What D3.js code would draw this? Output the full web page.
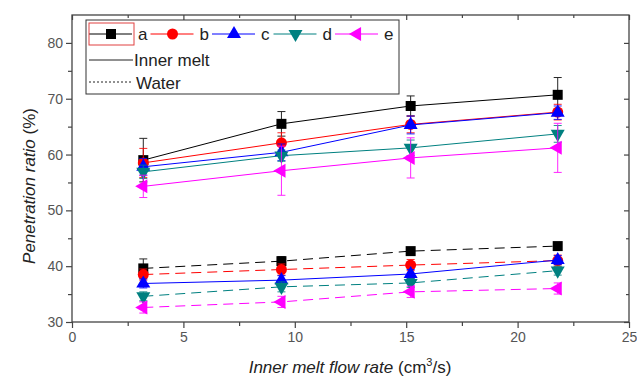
<!DOCTYPE html>
<html>
<head>
<meta charset="utf-8">
<script src="https://cdn.jsdelivr.net/npm/d3@7"></script>
<style>
  body { margin: 0; background: #fff; }
  text { font-family: "Liberation Sans", Arial, sans-serif; }
</style>
</head>
<body>
<svg id="chart" width="637" height="379"></svg>
<script>
// data
const flowRates = [3.2, 9.4, 15.2, 21.8];
const seriesNames = ["a", "b", "c", "d", "e"];
const seriesColors = ["#000000", "#ff0000", "#0000ff", "#008080", "#ff00ff"];
const seriesShapes = ["square", "circle", "triangle", "triangleDown", "triangleLeft"];

const meltValues = [
  [59.0, 65.5, 68.7, 70.7],
  [58.5, 62.1, 65.4, 67.6],
  [57.8, 60.4, 65.3, 67.5],
  [56.9, 59.8, 61.2, 63.7],
  [54.3, 57.1, 59.4, 61.2]
];
const meltErrors = [
  [3.9, 2.2, 1.8, 3.1],
  [2.6, 1.8, 1.5, 1.4],
  [1.5, 1.5, 1.6, 1.2],
  [1.2, 1.0, 1.4, 1.5],
  [2.0, 4.4, 3.6, 4.4]
];
const waterValues = [
  [39.6, 40.9, 42.7, 43.6],
  [38.5, 39.4, 40.2, 41.0],
  [36.9, 37.5, 38.6, 41.1],
  [34.6, 36.3, 37.0, 39.2],
  [32.6, 33.6, 35.4, 36.0]
];
const waterErrors = [
  [1.7, 0.8, 0.6, 0.6],
  [1.0, 1.0, 1.0, 1.0],
  [0.8, 0.8, 0.8, 0.8],
  [0.8, 0.9, 0.8, 0.8],
  [1.0, 1.0, 1.0, 1.0]
];
const waterDash = ["10,6", "10,6", null, "10,6", "10,6"];
const xTicks = [0, 5, 10, 15, 20, 25];
const yTicks = [30, 40, 50, 60, 70, 80];

const svg = d3.select("#chart");
const margin = { top: 15, right: 8, bottom: 57, left: 72 };
const width = 637 - margin.left - margin.right,
  height = 379 - margin.top - margin.bottom;
const g = svg.append("g").attr("transform", "translate(" + margin.left + "," + margin.top + ")");

const x = d3.scaleLinear().domain([0, 25]).range([0, width]);
const y = d3.scaleLinear().domain([30, 85]).range([height, 0]);
const axisColor = "#444";

// frame
g.append("rect").attr("width", width).attr("height", height)
  .attr("fill", "none").attr("stroke", axisColor).attr("stroke-width", 1.3);

// bottom axis
g.append("g").attr("transform", "translate(0," + height + ")")
  .call(d3.axisBottom(x).tickValues(xTicks).tickSize(6).tickPadding(4));
g.append("g").attr("transform", "translate(0," + height + ")")
  .call(d3.axisBottom(x).tickValues(d3.range(2.5, 25, 5)).tickSize(4).tickFormat(""));
// left axis
g.append("g").call(d3.axisLeft(y).tickValues(yTicks).tickSize(6).tickPadding(3));
g.append("g").call(d3.axisLeft(y).tickValues(d3.range(35, 85, 10)).tickSize(4).tickFormat(""));
// top and right mirror ticks pointing inward
g.append("g").call(d3.axisTop(x).tickValues(xTicks).tickSize(-5).tickFormat(""));
g.append("g").call(d3.axisTop(x).tickValues(d3.range(2.5, 25, 5)).tickSize(-3).tickFormat(""));
g.append("g").attr("transform", "translate(" + width + ",0)")
  .call(d3.axisRight(y).tickValues(yTicks).tickSize(-5).tickFormat(""));
g.append("g").attr("transform", "translate(" + width + ",0)")
  .call(d3.axisRight(y).tickValues(d3.range(35, 85, 10)).tickSize(-3).tickFormat(""));

g.selectAll(".domain").remove();
g.selectAll(".tick line").attr("stroke", axisColor).attr("stroke-width", 1.2);
g.selectAll(".tick text").attr("font-size", 14).attr("fill", "#555")
  .style("font-family", "Liberation Sans, Arial, sans-serif");

// markers
const shapeOf = {
  square: d3.symbol().type(d3.symbolSquare).size(100),
  circle: d3.symbol().type(d3.symbolCircle).size(95),
  triangle: d3.symbol().type(d3.symbolTriangle).size(85),
  triangleDown: d3.symbol().type(d3.symbolTriangle).size(85),
  triangleLeft: d3.symbol().type(d3.symbolTriangle).size(85)
};
const rotOf = { square: 0, circle: 0, triangle: 0, triangleDown: 180, triangleLeft: -90 };

function drawGroup(values, errors, dashFn) {
  values.forEach((vals, i) => {
    const pts = vals.map((v, j) => ({ x: flowRates[j], y: v, e: errors[i][j] }));
    const col = seriesColors[i];
    const line = d3.line().x(d => x(d.x)).y(d => y(d.y));
    g.append("path").datum(pts).attr("d", line)
      .attr("fill", "none").attr("stroke", col).attr("stroke-width", 1)
      .attr("stroke-dasharray", dashFn(i));
    const eb = g.append("g").attr("stroke", col).attr("stroke-width", 1).attr("opacity", 0.85);
    pts.forEach(d => {
      eb.append("line").attr("x1", x(d.x)).attr("x2", x(d.x))
        .attr("y1", y(d.y - d.e)).attr("y2", y(d.y + d.e));
      [d.y - d.e, d.y + d.e].forEach(v => {
        eb.append("line").attr("x1", x(d.x) - 4).attr("x2", x(d.x) + 4)
          .attr("y1", y(v)).attr("y2", y(v));
      });
    });
    g.selectAll(null).data(pts).enter().append("path")
      .attr("d", shapeOf[seriesShapes[i]])
      .attr("transform", d => "translate(" + x(d.x) + "," + y(d.y) + ") rotate(" + rotOf[seriesShapes[i]] + ")")
      .attr("fill", col);
  });
}
drawGroup(waterValues, waterErrors, i => waterDash[i]);
drawGroup(meltValues, meltErrors, () => null);

// legend
const lg = svg.append("g");
lg.append("rect").attr("x", 86).attr("y", 20).attr("width", 313).attr("height", 74)
  .attr("fill", "#fff").attr("stroke", "#333").attr("stroke-width", 1);
seriesNames.forEach((name, i) => {
  const x0 = 89 + i * 61.5;
  lg.append("line").attr("x1", x0).attr("x2", x0 + 43).attr("y1", 34).attr("y2", 34)
    .attr("stroke", seriesColors[i]).attr("stroke-width", 1);
  lg.append("path").attr("d", shapeOf[seriesShapes[i]])
    .attr("transform", "translate(" + (x0 + 22) + ",34) rotate(" + rotOf[seriesShapes[i]] + ")")
    .attr("fill", seriesColors[i]);
  lg.append("text").attr("x", x0 + 49).attr("y", 40).attr("font-size", 17).attr("fill", "#222").text(name);
});
lg.append("rect").attr("x", 89).attr("y", 23).attr("width", 45).attr("height", 22)
  .attr("fill", "none").attr("stroke", "#e04040").attr("stroke-width", 1);
lg.append("line").attr("x1", 89).attr("x2", 133).attr("y1", 60).attr("y2", 60)
  .attr("stroke", "#222").attr("stroke-width", 1);
lg.append("text").attr("x", 134).attr("y", 66).attr("font-size", 17).attr("fill", "#222").text("Inner melt");
lg.append("line").attr("x1", 89).attr("x2", 133).attr("y1", 82).attr("y2", 82)
  .attr("stroke", "#222").attr("stroke-width", 1).attr("stroke-dasharray", "2,2");
lg.append("text").attr("x", 136).attr("y", 89).attr("font-size", 17).attr("fill", "#222").text("Water");

// axis titles
const yt = svg.append("text").attr("transform", "translate(35,186) rotate(-90)")
  .attr("text-anchor", "middle").attr("font-size", 17).attr("fill", "#222");
yt.append("tspan").attr("font-style", "italic").text("Penetration ratio ");
yt.append("tspan").text("(%)");

const xt = svg.append("text").attr("x", 350).attr("y", 373)
  .attr("text-anchor", "middle").attr("font-size", 17).attr("fill", "#222");
xt.append("tspan").attr("font-style", "italic").text("Inner melt flow rate ");
xt.append("tspan").text("(cm");
xt.append("tspan").attr("font-size", 11).attr("dy", -7).text("3");
xt.append("tspan").attr("dy", 7).text("/s)");
</script>
</body>
</html>
